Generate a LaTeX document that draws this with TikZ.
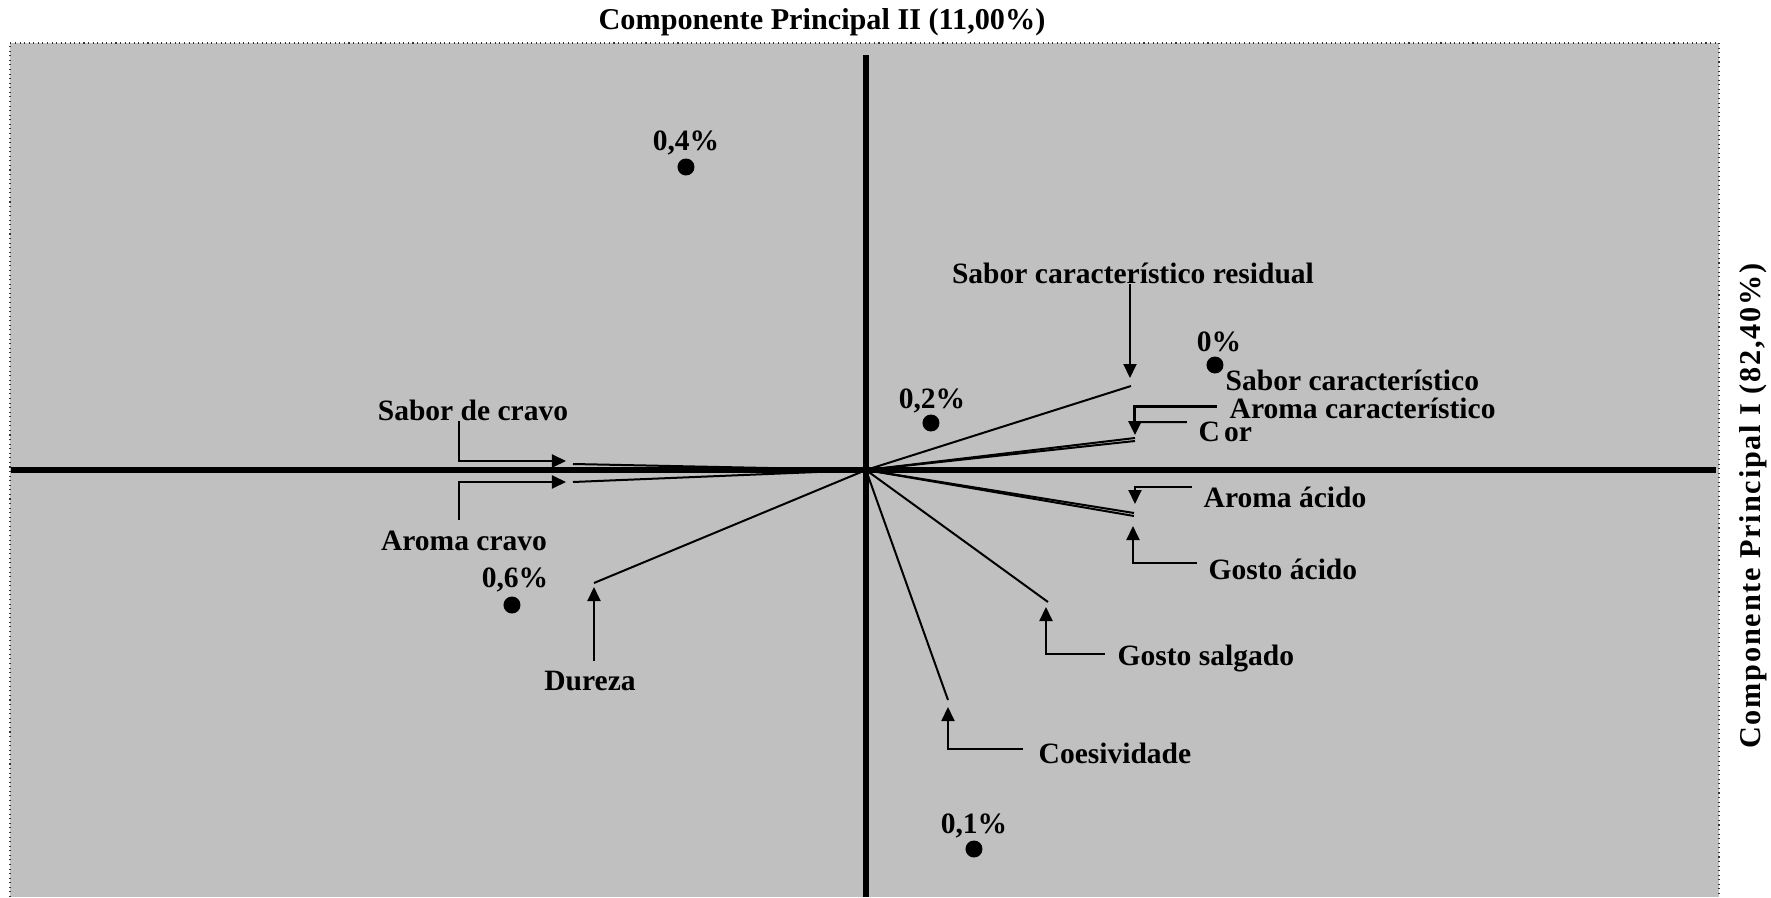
\documentclass[tikz,border=0pt]{standalone}
\usepackage{fontspec}
\setmainfont{Liberation Serif}
\usepackage{tikz}
\usetikzlibrary{arrows.meta}

\definecolor{panel}{RGB}{192,192,192}

\tikzset{axis/.style={line width=0.06cm, black}}
\tikzset{vect/.style={line width=0.02cm, black}}
\tikzset{callout/.style={line width=0.02cm, black, -{Triangle[length=0.14cm,width=0.13cm]}}}
\tikzset{lbl/.style={font=\bfseries\fontsize{8.4}{10}\selectfont, inner sep=0pt}}
\tikzset{ttl/.style={font=\bfseries\fontsize{8.6}{10}\selectfont, inner sep=0pt}}
\tikzset{pt/.style={circle, fill=black, inner sep=0pt, minimum size=0.17cm}}

\begin{document}
\begin{tikzpicture}

\def\xl{-8.56}
\def\xr{8.53}
\def\yt{4.27}
\def\yb{-4.27}

\useasboundingbox (-8.66,\yb) rectangle (9.05,4.70);

%panel
\fill[panel] (\xl,\yb) rectangle (\xr,\yt);
\draw[densely dotted, line width=0.3pt, black!80] (\xl,\yb) -- (\xl,\yt) -- (\xr,\yt) -- (\xr,\yb);

%axes
\coordinate (o) at (0,0);
\draw[axis] (-8.55,0) -- (8.50,0);
\draw[axis] (0,4.15) -- (0,\yb);

\node[ttl] (cp2) at (-0.44,4.48) {Componente Principal II (11,00\%)};
\node[ttl, rotate=90] (cp1) at (8.87,-0.36) {\addfontfeature{LetterSpace=6}Componente Principal I (82,40\%)};

%vectors
\coordinate (vres) at ( 2.65, 0.84);
\coordinate (vcra) at ( 2.69, 0.32);
\coordinate (vcrb) at ( 2.69, 0.29);
\coordinate (vsc)  at (-2.93, 0.06);
\coordinate (vac)  at (-2.93,-0.12);
\coordinate (vdur) at (-2.72,-1.13);
\coordinate (vaca) at ( 2.68,-0.43);
\coordinate (vacb) at ( 2.68,-0.46);
\coordinate (vsal) at ( 1.82,-1.32);
\coordinate (vcoe) at ( 0.82,-2.30);

\draw[vect] (o) -- (vres);
\draw[vect] (o) -- (vcra);
\draw[vect] (o) -- (vcrb);
\draw[vect] (o) -- (vsc);
\draw[vect] (o) -- (vac);
\draw[vect] (o) -- (vdur);
\draw[vect] (o) -- (vaca);
\draw[vect] (o) -- (vacb);
\draw[vect] (o) -- (vsal);
\draw[vect] (o) -- (vcoe);

%samples
\node[pt] (d04) at (-1.80, 3.03) {};
\node[pt] (d02) at ( 0.65, 0.47) {};
\node[pt] (d00) at ( 3.49, 1.05) {};
\node[pt] (d06) at (-3.54,-1.35) {};
\node[pt] (d01) at ( 1.08,-3.79) {};

\node[lbl] (l04) at (-1.80, 3.27) {0,4\%};
\node[lbl] (l02) at ( 0.66, 0.69) {0,2\%};
\node[lbl] (l00) at ( 3.53, 1.28) {0\%};
\node[lbl] (l06) at (-3.51,-1.10) {0,6\%};
\node[lbl] (l01) at ( 1.08,-3.56) {0,1\%};

%attributes, left side
\node[lbl] (lres) at (2.67,1.97) {Sabor característico residual};
\node[lbl] (lsc)  at (-3.93, 0.60) {Sabor de cravo};
\node[lbl] (lac)  at (-4.02,-0.71) {Aroma cravo};
\node[lbl] (ldur) at (-2.76,-2.11) {Dureza};

\coordinate (tres) at ( 2.64, 0.92);
\coordinate (tsc)  at (-3.00, 0.09);
\coordinate (tac)  at (-3.00,-0.12);
\coordinate (tdur) at (-2.72,-1.17);

\draw[callout] (tres |- lres.south) -- (tres);
\draw[callout] ([xshift=-0.14cm]lsc.south) |- (tsc);
\draw[callout] ([shift={(-0.05,0.10)}]lac.north) |- (tac);
\draw[callout] ([shift={(0.04,0.09)}]ldur.north) -- (tdur);

%attributes, right side
\node[lbl, anchor=west] (lsch) at (3.59, 0.90) {Sabor característico};
\node[lbl, anchor=west] (larc) at (3.63, 0.62) {Aroma característico};
\node[lbl, anchor=west] (lcor) at (3.32, 0.38) {C\kern1.2pt or};
\node[lbl, anchor=west] (laa)  at (3.37,-0.27) {Aroma ácido};
\node[lbl, anchor=west] (lga)  at (3.42,-0.99) {Gosto ácido};
\node[lbl, anchor=west] (lsal) at (2.51,-1.89) {Gosto salgado};
\node[lbl, anchor=west] (lcoe) at (1.72,-2.83) {Coesividade};

\coordinate (tarc) at (2.69, 0.35);
\coordinate (taa)  at (2.69,-0.34);
\coordinate (tga)  at (2.67,-0.56);
\coordinate (tsal) at (1.80,-1.37);
\coordinate (tcoe) at (0.82,-2.37);

\draw[callout, line width=0.03cm] ([shift={(-0.12,0.02)}]larc.west) -| (tarc);
\draw[vect] ([shift={(-0.11,0.10)}]lcor.west) -- (tarc |- {0,0.48});
\draw[callout] ([shift={(-0.11,0.10)}]laa.west) -| (taa);
\draw[callout] ([shift={(-0.11,0.06)}]lga.west) -| (tga);
\draw[callout] ([shift={(-0.12,0.05)}]lsal.west) -| (tsal);
\draw[callout] ([shift={(-0.15,0.04)}]lcoe.west) -| (tcoe);

\end{tikzpicture}
\end{document}
